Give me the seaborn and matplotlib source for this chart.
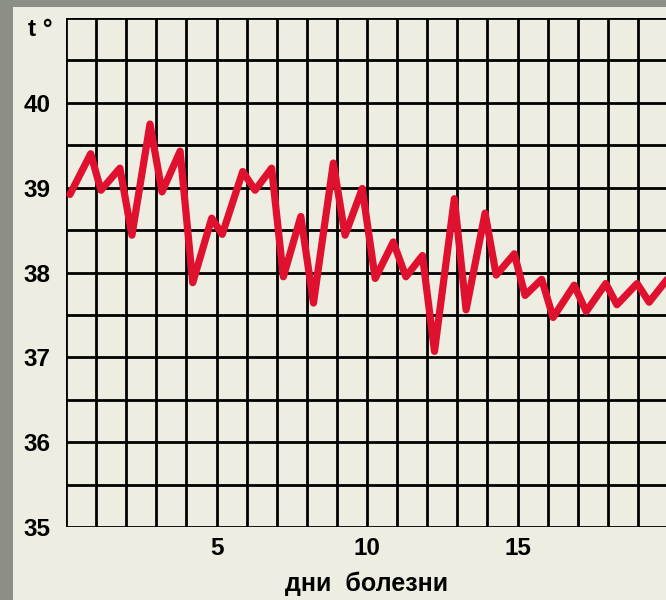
import matplotlib
matplotlib.use("Agg")
import matplotlib.pyplot as plt
import seaborn as sns
import pandas as pd
from matplotlib.patches import Rectangle

# ---- data ----
days = [0.13, 0.82, 1.16, 1.79, 2.19, 2.79, 3.19, 3.79, 4.21, 4.84,
        5.19, 5.87, 6.28, 6.83, 7.22, 7.80, 8.22, 8.88, 9.27, 9.84,
        10.27, 10.87, 11.29, 11.84, 12.24, 12.90, 13.29, 13.92, 14.29, 14.89,
        15.25, 15.80, 16.18, 16.88, 17.28, 17.93, 18.30, 18.97, 19.37, 19.97]
temps = [38.92, 39.40, 38.97, 39.23, 38.44, 39.75, 38.95, 39.43, 37.88, 38.64,
         38.45, 39.19, 38.97, 39.23, 37.95, 38.66, 37.64, 39.29, 38.44, 38.99,
         37.93, 38.36, 37.95, 38.20, 37.07, 38.87, 37.56, 38.70, 37.97, 38.22,
         37.73, 37.92, 37.47, 37.85, 37.54, 37.87, 37.62, 37.87, 37.65, 37.92]
y_ticks = [35, 36, 37, 38, 39, 40]
x_ticks = [5, 10, 15]
x_label = "дни  болезни"
y_label = "t °"

df = pd.DataFrame({"day": days, "temp": temps})

sns.set_theme(style="white")
plt.rcParams["font.family"] = ["Liberation Sans", "DejaVu Sans"]
plt.rcParams["font.weight"] = "bold"

CREAM = "#EEEDE2"
GRAY = "#8C8F86"
RED = "#E0102F"

fig = plt.figure(figsize=(6.66, 6.0), dpi=100, facecolor=GRAY)
bg = fig.add_axes([0, 0, 1, 1], zorder=-10)
bg.set_xlim(0, 666)
bg.set_ylim(0, 600)
bg.axis("off")
bg.add_patch(Rectangle((13, 0), 660, 593, facecolor=CREAM, edgecolor="none"))

ax = fig.add_axes([66 / 666, 73 / 600, 1 - 66 / 666, (527 - 18) / 600], zorder=1)
ax.set_facecolor(CREAM)

sns.lineplot(data=df, x="day", y="temp", color=RED, linewidth=5.2,
             ax=ax, zorder=3, sort=False)

ax.set_xlim(0, 19.93)
ax.set_ylim(35, 41)

# grid
for d in range(0, 20):
    ax.axvline(d, color="black", linewidth=2.0, zorder=1)
for k in range(0, 13):
    ax.axhline(35 + 0.5 * k, color="black", linewidth=2.0, zorder=1)

for s in ax.spines.values():
    s.set_visible(False)

ax.set_xticks(x_ticks)
ax.set_xticklabels([str(v) for v in x_ticks])
ax.set_yticks(y_ticks)
ax.set_yticklabels([str(v) for v in y_ticks])
ax.tick_params(axis="both", length=0, labelsize=17.5, colors="black")
ax.tick_params(axis="y", pad=11)
ax.tick_params(axis="x", pad=7)
for lab in ax.get_xticklabels() + ax.get_yticklabels():
    lab.set_fontweight("bold")

ax.set_xlabel(x_label, fontsize=18, fontweight="bold", color="black")
ax.xaxis.set_label_coords(10 / 19.93, -0.088)
ax.set_ylabel("")
ax.text(-0.023, 0.977, y_label, transform=ax.transAxes, ha="right", va="center",
        fontsize=17.5, fontweight="bold", color="black")

fig.savefig("out.png", dpi=100, facecolor=GRAY)
